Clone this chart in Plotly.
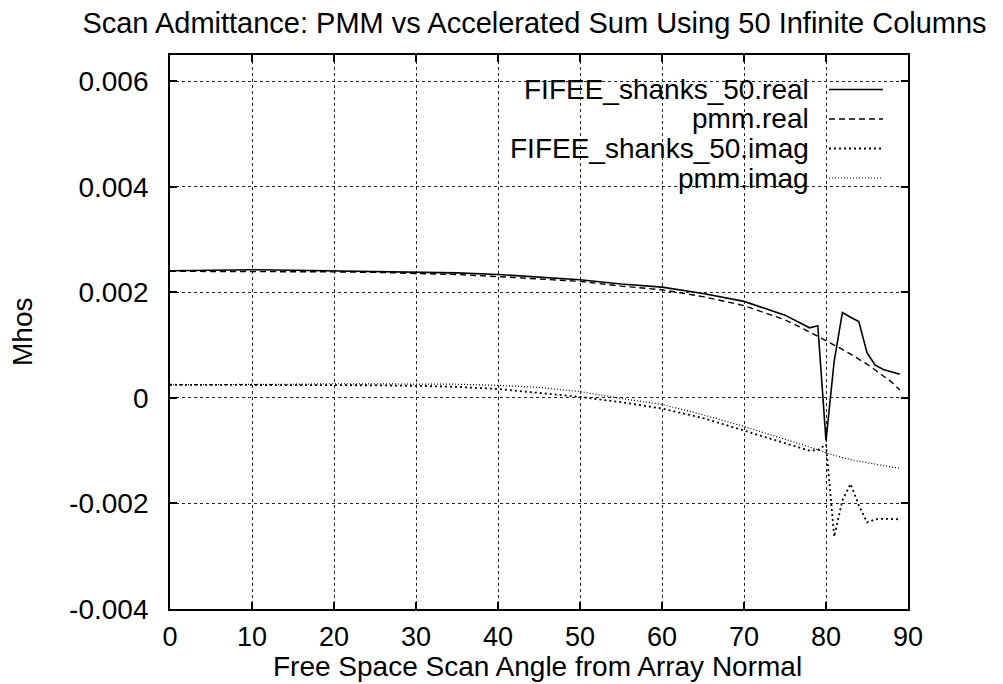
import plotly.graph_objects as go

# ---------------- data ----------------
angle_fr = [0, 5, 10, 15, 20, 25, 30, 35, 40, 45, 50, 55, 60, 65, 70, 75,
            76, 77, 78, 79, 80, 81, 82, 83, 84, 85, 86, 87, 88, 89]
fifee_real = [0.00241, 0.00242, 0.00243, 0.00242, 0.00241, 0.00240, 0.00239, 0.00237,
              0.00234, 0.00229, 0.00224, 0.00216, 0.00210, 0.00198, 0.00183, 0.00157,
              0.00149, 0.00141, 0.00133, 0.00137, -0.00081, 0.00070, 0.00162, 0.00153,
              0.00145, 0.00086, 0.00062, 0.00054, 0.00049, 0.00045]

angle_pr = [0, 5, 10, 15, 20, 25, 30, 35, 40, 45, 50, 55, 60, 65, 70, 75,
            76, 77, 78, 79, 80, 81, 82, 83, 84, 85, 86, 87, 88, 89]
pmm_real = [0.00240, 0.00240, 0.00240, 0.00240, 0.00239, 0.00238, 0.00236, 0.00234,
            0.00230, 0.00226, 0.00221, 0.00212, 0.00205, 0.00192, 0.00175, 0.00148,
            0.00141, 0.00133, 0.00125, 0.00117, 0.00108, 0.00100, 0.00092, 0.00083,
            0.00074, 0.00064, 0.00053, 0.00042, 0.00030, 0.00015]

angle_fi = [0, 5, 10, 15, 20, 25, 30, 35, 40, 45, 50, 55, 60, 65, 70, 75,
            76, 77, 78, 79, 80, 81, 82, 83, 84, 85, 86, 87, 88, 89]
fifee_imag = [0.00025, 0.00025, 0.00025, 0.00025, 0.00025, 0.00024, 0.00023, 0.00021,
              0.00017, 0.00010, 0.00002, -0.00008, -0.00020, -0.00038, -0.00062, -0.00085,
              -0.00090, -0.00096, -0.00100, -0.00099, -0.00088, -0.00263, -0.00194, -0.00163,
              -0.00203, -0.00236, -0.00230, -0.00229, -0.00230, -0.00230]

angle_pi = [0, 5, 10, 15, 20, 25, 30, 35, 40, 45, 50, 55, 60, 65, 70, 75,
            76, 77, 78, 79, 80, 81, 82, 83, 84, 85, 86, 87, 88, 89]
pmm_imag = [0.00025, 0.00025, 0.00026, 0.00026, 0.00027, 0.00027, 0.00027, 0.00026,
            0.00024, 0.00020, 0.00012, -0.00001, -0.00012, -0.00032, -0.00054, -0.00078,
            -0.00083, -0.00088, -0.00093, -0.00098, -0.00104, -0.00109, -0.00113, -0.00117,
            -0.00120, -0.00123, -0.00126, -0.00129, -0.00131, -0.00133]

x_ticks = [0, 10, 20, 30, 40, 50, 60, 70, 80, 90]
x_tick_labels = ["0", "10", "20", "30", "40", "50", "60", "70", "80", "90"]
y_ticks = [-0.004, -0.002, 0, 0.002, 0.004, 0.006]
y_tick_labels = ["-0.004", "-0.002", "0", "0.002", "0.004", "0.006"]

series_names = ["FIFEE_shanks_50.real", "pmm.real", "FIFEE_shanks_50.imag", "pmm.imag"]

title_text = "Scan Admittance: PMM vs Accelerated Sum Using 50 Infinite Columns"
x_title = "Free Space Scan Angle from Array Normal"
y_title = "Mhos"

# ---------------- styling ----------------
FONT = "Liberation Sans, Arial, Helvetica, sans-serif"
FS = 28
styles = [
    dict(color="black", width=1.6, dash="solid"),
    dict(color="black", width=1.4, dash="6px,4px"),
    dict(color="black", width=1.8, dash="2px,3px"),
    dict(color="black", width=1.2, dash="1px,2px"),
]

fig = go.Figure()
for xs, ys, name, st in zip([angle_fr, angle_pr, angle_fi, angle_pi],
                            [fifee_real, pmm_real, fifee_imag, pmm_imag],
                            series_names, styles):
    fig.add_trace(go.Scatter(x=xs, y=ys, mode="lines", name=name, line=st,
                             showlegend=False))

W, H = 1003, 684
L, R, T, B = 170, 95, 55, 75
plot_h = H - T - B
plot_w = W - L - R

# manual gnuplot-style legend (text right-aligned, sample on the right)
row_px = [89.5, 119, 148.5, 178]
for name, st, py in zip(series_names, styles, row_px):
    yp = (H - B - py) / plot_h
    fig.add_annotation(x=(811 - L) / plot_w, y=yp, xref="paper", yref="paper",
                       text=name, showarrow=False, xanchor="right", yanchor="middle",
                       font=dict(family=FONT, size=FS, color="black"))
    fig.add_shape(type="line", xref="paper", yref="paper",
                  x0=(829 - L) / plot_w, x1=(883 - L) / plot_w, y0=yp, y1=yp,
                  line=st)

# axis titles placed at pixel positions like the reference
fig.add_annotation(x=(537 - L) / plot_w, y=(H - B - 666) / plot_h, xref="paper", yref="paper",
                   text=x_title, showarrow=False, xanchor="center", yanchor="middle",
                   font=dict(family=FONT, size=FS, color="black"))
fig.add_annotation(x=(22 - L) / plot_w, y=0.5, xref="paper", yref="paper",
                   text=y_title, showarrow=False, textangle=-90,
                   xanchor="center", yanchor="middle",
                   font=dict(family=FONT, size=FS, color="black"))

axis_common = dict(
    showline=True, linecolor="black", linewidth=1.8, mirror="ticks",
    ticks="inside", ticklen=7, tickwidth=1.5, tickcolor="black",
    showgrid=True, gridcolor="#222222", gridwidth=1, griddash="dot",
    zeroline=False,
)

fig.update_layout(
    width=W, height=H,
    margin=dict(l=L, r=R, t=T, b=B, pad=0),
    paper_bgcolor="white", plot_bgcolor="white",
    font=dict(family=FONT, size=FS, color="black"),
    title=dict(text=title_text, x=534.5 / W, xref="container", xanchor="center",
               y=1 - 23 / H, yref="container", yanchor="middle",
               font=dict(family=FONT, size=29, color="black")),
    xaxis=dict(range=[0, 90], tickvals=x_ticks, ticktext=x_tick_labels,
               ticklabelstandoff=3, automargin=False,
               tickfont=dict(family=FONT, size=27, color="black"), **axis_common),
    yaxis=dict(range=[-0.004, 0.0065], tickvals=y_ticks, ticktext=y_tick_labels,
               ticklabelstandoff=14, automargin=False,
               tickfont=dict(family=FONT, size=FS, color="black"), **axis_common),
)

fig.write_html("out.html", config={"displayModeBar": False},
               post_script="document.body.style.margin='0';document.body.style.overflow='hidden';")
